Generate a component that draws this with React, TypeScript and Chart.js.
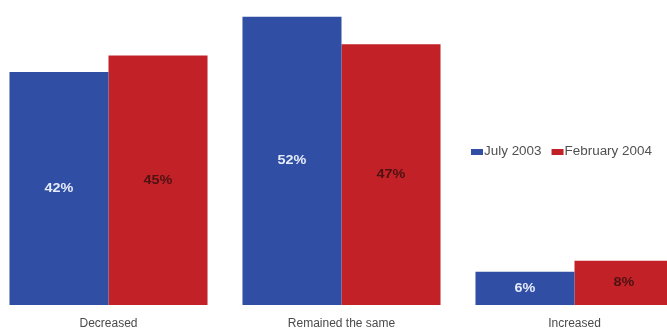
import React, { useEffect, useRef } from "react";
import { Chart, registerables } from "chart.js";

Chart.register(...registerables);

const categories = ["Decreased", "Remained the same", "Increased"];
const july2003 = [42, 52, 6];
const february2004 = [45, 47, 8];
const seriesLabels = ["July 2003", "February 2004"];

const BLUE = "#2f4ea4";
const RED = "#c22227";
const FONT = "'Liberation Sans', Arial, sans-serif";

export default function App() {
  const ref = useRef<HTMLCanvasElement | null>(null);

  useEffect(() => {
    if (!ref.current) return;

    const valueLabels = {
      id: "valueLabels",
      afterDatasetsDraw(chart: any) {
        const ctx = chart.ctx;
        chart.data.datasets.forEach((ds: any, di: number) => {
          const meta = chart.getDatasetMeta(di);
          meta.data.forEach((bar: any, i: number) => {
            const y = (bar.y + bar.base) / 2;
            ctx.save();
            ctx.translate(bar.x, y);
            ctx.scale(1.2, 1);
            ctx.font = "bold 12px " + FONT;
            ctx.textAlign = "center";
            ctx.textBaseline = "middle";
            ctx.fillStyle = di === 0 ? "#e6ecfa" : "#4e1212";
            ctx.fillText(ds.data[i] + "%", 0, 0);
            ctx.restore();
          });
        });
      },
    };

    const customLegend = {
      id: "customLegend",
      afterDraw(chart: any) {
        const ctx = chart.ctx;
        ctx.save();
        ctx.font = "12px " + FONT;
        ctx.textBaseline = "middle";
        ctx.textAlign = "left";
        let x = 479; // canvas coords (canvas offset -8)
        const y = 152;
        chart.data.datasets.forEach((ds: any) => {
          ctx.fillStyle = ds.backgroundColor;
          ctx.fillRect(x, y - 3, 12, 6);
          const w = ctx.measureText(ds.label).width;
          ctx.save();
          ctx.translate(x + 13, y);
          ctx.scale(1.12, 1);
          ctx.fillStyle = "#505050";
          ctx.fillText(ds.label, 0, 0);
          ctx.restore();
          x += 13 + w * 1.12 + 10;
        });
        ctx.restore();
      },
    };

    const chart = new Chart(ref.current, {
      type: "bar",
      data: {
        labels: categories,
        datasets: [
          {
            label: seriesLabels[0],
            data: july2003,
            backgroundColor: BLUE,
            borderWidth: 0,
            barPercentage: 1,
            categoryPercentage: 0.85,
          },
          {
            label: seriesLabels[1],
            data: february2004,
            backgroundColor: RED,
            borderWidth: 0,
            barPercentage: 1,
            categoryPercentage: 0.85,
          },
        ],
      },
      options: {
        animation: false,
        responsive: false,
        maintainAspectRatio: false,
        layout: { padding: 0 },
        plugins: {
          legend: { display: false },
          tooltip: { enabled: false },
        },
        scales: {
          x: {
            grid: { display: false },
            border: { display: false },
            ticks: {
              color: "#4a4a4a",
              padding: 3,
              font: { size: 12, family: FONT },
              maxRotation: 0,
            },
            afterFit: (scale: any) => {
              scale.height = 25;
            },
          },
          y: {
            display: false,
            min: 0,
            max: 55,
          },
        },
      },
      plugins: [valueLabels, customLegend],
    });

    return () => chart.destroy();
  }, []);

  return (
    <div
      style={{
        position: "fixed",
        left: 0,
        top: 0,
        width: 667,
        height: 330,
        overflow: "hidden",
        background: "#fff",
      }}
    >
      <canvas
        ref={ref}
        width={699}
        height={330}
        style={{ position: "absolute", left: -8, top: 0, width: 699, height: 330 }}
      />
    </div>
  );
}
